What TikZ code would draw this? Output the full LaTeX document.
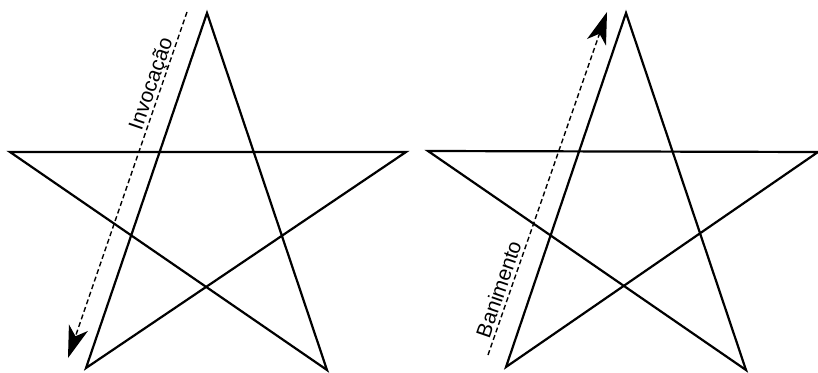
\documentclass[tikz,border=0pt]{standalone}
\usepackage{fontspec}
\setmainfont{Liberation Sans}
\usetikzlibrary{arrows.meta}
\begin{document}
\begin{tikzpicture}[x=1pt,y=-1pt,
  starline/.style={line width=2.2pt, line join=miter, miter limit=20},
  guide/.style={line width=1.4pt, dash pattern=on 5pt off 3pt},
  tipend/.style={-{Stealth[length=32pt,width=20pt,inset=9pt]}},
  lbl/.style={font=\fontsize{21}{25}\selectfont, inner sep=0pt, anchor=base, rotate=71}]
\useasboundingbox (0,0) rectangle (818,372);
% left star
\coordinate (lT) at (207,13);
\coordinate (lBL) at (86,368);
\coordinate (lR) at (406,152);
\coordinate (lL) at (10,152);
\coordinate (lBR) at (327,370);
\draw[starline] (lT) -- (lBL) -- (lR) -- (lL) -- (lBR) -- cycle;
% right star
\coordinate (rT) at (626,13);
\coordinate (rBL) at (506,367);
\coordinate (rR) at (818,152);
\coordinate (rL) at (428,151);
\coordinate (rBR) at (746,370);
\draw[starline] (rT) -- (rBL) -- (rR) -- (rL) -- (rBR) -- cycle;
% guides
\coordinate (inA) at (187,12);
\coordinate (inB) at (68,358);
\draw[guide, tipend] (inA) -- (inB);
\node[lbl] (inv) at (157.3,86.1) {Invocação};
\coordinate (baA) at (488,355);
\coordinate (baB) at (607,12);
\draw[guide, tipend] (baA) -- (baB);
\node[lbl] (ban) at (505.7,291.7) {Banimento};
\end{tikzpicture}
\end{document}
